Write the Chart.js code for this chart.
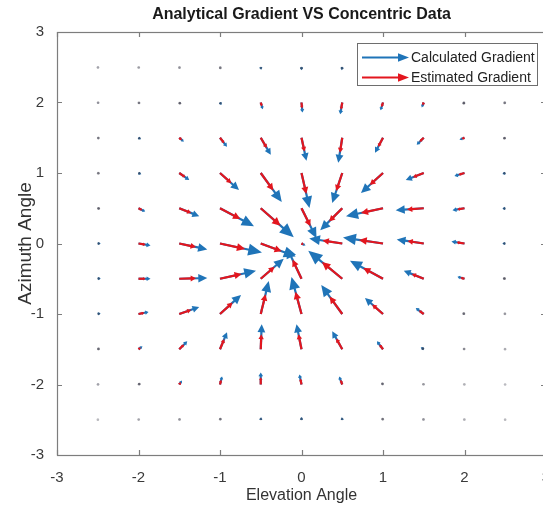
<!DOCTYPE html>
<html><head><meta charset="utf-8">
<script src="https://cdn.jsdelivr.net/npm/chart.js@4.4.1/dist/chart.umd.min.js"></script>
<style>
html,body{margin:0;padding:0;background:#fff;overflow:hidden}
#wrap{width:543px;height:507px;overflow:hidden;position:relative;background:#fff}
canvas{display:block}
</style></head>
<body><div id="wrap"><canvas id="c" width="603" height="507"></canvas></div>
<script>
// grid (Elevation = x, Azimuth = y)
const xs = [-2.5,-2,-1.5,-1,-0.5,0,0.5,1,1.5,2,2.5];
const ys = [2.5,2,1.5,1,0.5,0,-0.5,-1,-1.5,-2,-2.5];
const xTicks = [-3,-2,-1,0,1,2,3];
const yTicks = [-3,-2,-1,0,1,2,3];
const seriesNames = ['Calculated Gradient','Estimated Gradient'];

// Calculated gradient components (rows follow ys, columns follow xs)
const calcU = [
 [.006,.007,.007,.008,.007,0,-.008,-.016,-.018,-.017,-.009],
 [.010,.014,.016,.018,.024,.012,-.025,-.030,-.025,-.019,-.015],
 [.016,.031,.056,.086,.123,.061,-.049,-.098,-.086,-.061,-.022],
 [.017,.034,.123,.233,.258,.098,-.123,-.270,-.221,-.123,-.035],
 [.024,.082,.245,.417,.405,.184,-.270,-.454,-.344,-.147,-.035],
 [.037,.147,.344,.515,.429,.049,-.405,-.491,-.331,-.160,-.037],
 [.037,.147,.344,.442,.282,-.184,-.417,-.405,-.245,-.086,-.025],
 [.035,.123,.245,.258,.098,-.123,-.258,-.221,-.098,-.020,-.010],
 [.020,.049,.098,.086,.012,-.061,-.123,-.074,-.037,-.012,-.006],
 [.008,.020,.033,.025,0,-.025,-.037,-.015,-.008,-.005,-.004],
 [.004,.006,.008,.010,.005,0,-.006,-.010,-.008,-.005,-.004]
];
const calcV = [
 [-.006,-.008,-.012,-.019,-.035,-.043,-.041,-.039,-.029,-.021,-.009],
 [-.008,-.014,-.021,-.037,-.095,-.142,-.168,-.110,-.071,-.019,-.012],
 [-.010,-.023,-.056,-.128,-.241,-.326,-.355,-.213,-.099,-.028,-.013],
 [-.007,-.017,-.099,-.241,-.411,-.496,-.426,-.284,-.099,-.043,-.014],
 [-.005,-.047,-.113,-.255,-.411,-.426,-.312,-.113,-.028,-.028,-.008],
 [0,-.028,-.085,-.128,-.184,-.028,.071,.085,.057,.028,0],
 [.008,0,.010,.113,.284,.454,.397,.255,.113,.028,.005],
 [.010,.028,.099,.270,.468,.525,.411,.227,.085,.010,.005],
 [.010,.043,.113,.241,.355,.355,.255,.113,.028,.008,.004],
 [.004,.015,.057,.113,.170,.142,.113,.020,.008,.004,.002],
 [.003,.006,.010,.020,.035,.040,.035,.020,.010,.005,.003]
];
// Estimated gradient components
const estU = [
 [.004,.004,.004,.005,.004,0,-.005,-.010,-.011,-.010,-.005],
 [.006,.008,.010,.011,.014,.007,-.015,-.018,-.015,-.011,-.009],
 [.010,.019,.034,.052,.074,.037,-.029,-.059,-.052,-.037,-.013],
 [.010,.020,.074,.140,.155,.059,-.074,-.162,-.133,-.074,-.021],
 [.014,.049,.147,.250,.243,.110,-.162,-.272,-.206,-.088,-.021],
 [.022,.088,.206,.309,.257,.029,-.243,-.295,-.199,-.096,-.022],
 [.022,.088,.206,.265,.169,-.110,-.250,-.243,-.147,-.052,-.015],
 [.021,.074,.147,.155,.059,-.074,-.155,-.133,-.059,-.012,-.006],
 [.012,.029,.059,.052,.007,-.037,-.074,-.044,-.022,-.007,-.004],
 [.005,.012,.020,.015,0,-.015,-.022,-.009,-.005,-.003,-.002],
 [.002,.004,.005,.006,.003,0,-.004,-.006,-.005,-.003,-.002]
];
const estV = [
 [-.004,-.005,-.007,-.011,-.021,-.026,-.025,-.023,-.017,-.013,-.005],
 [-.005,-.008,-.013,-.022,-.057,-.085,-.101,-.066,-.043,-.011,-.007],
 [-.006,-.014,-.034,-.077,-.145,-.196,-.213,-.128,-.059,-.017,-.008],
 [-.004,-.010,-.059,-.145,-.247,-.298,-.256,-.170,-.059,-.026,-.008],
 [-.003,-.028,-.068,-.153,-.247,-.256,-.187,-.068,-.017,-.017,-.005],
 [0,-.017,-.051,-.077,-.110,-.017,.043,.051,.034,.017,0],
 [.005,0,.006,.068,.170,.272,.238,.153,.068,.017,.003],
 [.006,.017,.059,.162,.281,.315,.247,.136,.051,.006,.003],
 [.006,.026,.068,.145,.213,.213,.153,.068,.017,.005,.002],
 [.002,.009,.034,.068,.102,.085,.068,.012,.005,.002,.001],
 [.002,.004,.006,.012,.021,.024,.021,.012,.006,.003,.002]
];

const BLUE = '#1f74b8';
const RED = '#e3161e';

function buildPoints(U, V) {
  const pts = [];
  ys.forEach((y, j) => xs.forEach((x, i) => pts.push({x, y, u: U[j][i], v: V[j][i]})));
  return pts;
}

function drawArrow(ctx, x0, y0, x1, y1, color, lw, fixedHead) {
  const dx = x1 - x0, dy = y1 - y0, L = Math.hypot(dx, dy);
  if (!fixedHead && L < 2.5) {
    ctx.fillStyle = 'rgba(60,60,75,' + Math.min(0.8, 0.12 + L * 0.28) + ')';
    ctx.beginPath(); ctx.arc(x0 + dx / 2, y0 + dy / 2, 1.3, 0, Math.PI * 2); ctx.fill();
    return;
  }
  const ux = dx / L, uy = dy / L;
  const h = fixedHead ? fixedHead[0] : Math.max(2.5, 0.32 * L);
  const w = fixedHead ? fixedHead[1] : Math.max(1.6, 0.12 * L + 0.9);
  const bx = x1 - ux * h, by = y1 - uy * h;
  ctx.strokeStyle = color; ctx.lineWidth = lw; ctx.lineCap = 'butt';
  ctx.beginPath(); ctx.moveTo(x0, y0); ctx.lineTo(bx + ux * 0.6, by + uy * 0.6); ctx.stroke();
  ctx.fillStyle = color;
  ctx.beginPath();
  ctx.moveTo(x1, y1);
  ctx.lineTo(bx - uy * w, by + ux * w);
  ctx.lineTo(bx + uy * w, by - ux * w);
  ctx.closePath(); ctx.fill();
}

const quiverPlugin = {
  id: 'quiver',
  afterDatasetsDraw(chart) {
    const ctx = chart.ctx, xS = chart.scales.x, yS = chart.scales.y, a = chart.chartArea;
    ctx.save();
    ctx.beginPath(); ctx.rect(a.left, a.top, a.right - a.left, a.bottom - a.top); ctx.clip();
    chart.data.datasets.forEach((ds, di) => {
      ds.data.forEach(p => {
        const x0 = xS.getPixelForValue(p.x), y0 = yS.getPixelForValue(p.y);
        const x1 = xS.getPixelForValue(p.x + p.u), y1 = yS.getPixelForValue(p.y + p.v);
        drawArrow(ctx, x0, y0, x1, y1, ds.borderColor, 2.2);
      });
    });
    ctx.restore();
  },
  afterDraw(chart) {
    const ctx = chart.ctx, a = chart.chartArea, xS = chart.scales.x, yS = chart.scales.y;
    ctx.save();
    // axes box
    ctx.strokeStyle = '#7d7d7d'; ctx.lineWidth = 1.2;
    ctx.strokeRect(Math.round(a.left) + 0.5, Math.round(a.top) + 0.5, Math.round(a.right - a.left), Math.round(a.bottom - a.top));
    // inward ticks
    ctx.beginPath();
    xTicks.forEach(v => {
      const px = Math.round(xS.getPixelForValue(v)) + 0.5;
      ctx.moveTo(px, a.bottom); ctx.lineTo(px, a.bottom - 5);
      ctx.moveTo(px, a.top); ctx.lineTo(px, a.top + 5);
    });
    yTicks.forEach(v => {
      const py = Math.round(yS.getPixelForValue(v)) + 0.5;
      ctx.moveTo(a.left, py); ctx.lineTo(a.left + 5, py);
      ctx.moveTo(a.right, py); ctx.lineTo(a.right - 5, py);
    });
    ctx.stroke();
    // legend
    const lx = 357.5, ly = 43.5, lw = 180, lh = 42;
    ctx.fillStyle = '#fff'; ctx.fillRect(lx, ly, lw, lh);
    ctx.strokeStyle = '#6e6e6e'; ctx.lineWidth = 1; ctx.strokeRect(lx, ly, lw, lh);
    ctx.font = '14px "Liberation Sans", Arial, sans-serif';
    ctx.textBaseline = 'middle'; ctx.textAlign = 'left';
    chart.data.datasets.forEach((ds, i) => {
      const yy = 57.5 + i * 20;
      drawArrow(ctx, 362, yy, 409, yy, ds.borderColor, 2.2, [11, 4.2]);
      ctx.fillStyle = '#222';
      ctx.fillText(ds.label, 411, yy + 0.5);
    });
    ctx.restore();
  }
};

const tickFont = {family: '"Liberation Sans", Arial, sans-serif', size: 15};

new Chart(document.getElementById('c'), {
  type: 'scatter',
  data: {
    datasets: [
      {label: seriesNames[0], data: buildPoints(calcU, calcV), borderColor: BLUE, backgroundColor: BLUE, pointRadius: 0},
      {label: seriesNames[1], data: buildPoints(estU, estV), borderColor: RED, backgroundColor: RED, pointRadius: 0}
    ]
  },
  options: {
    responsive: false,
    animation: false,
    devicePixelRatio: 1,
    layout: {padding: 0},
    plugins: {
      legend: {display: false},
      tooltip: {enabled: false},
      title: {
        display: true,
        text: 'Analytical Gradient VS Concentric Data',
        color: '#1a1a1a',
        font: {family: '"Liberation Sans", Arial, sans-serif', size: 16, weight: 'bold', lineHeight: 1.2},
        padding: {top: 5, bottom: 7.8}
      }
    },
    scales: {
      x: {
        type: 'linear', position: 'bottom', min: -3, max: 3,
        afterBuildTicks: s => { s.ticks = xTicks.map(v => ({value: v})); },
        afterFit: s => { s.height = 52; },
        grid: {display: false}, border: {display: false},
        ticks: {color: '#3a3a3a', font: tickFont, padding: 6, maxRotation: 0},
        title: {display: true, text: 'Elevation Angle', color: '#333',
          font: {family: '"Liberation Sans", Arial, sans-serif', size: 16, lineHeight: 1.2}, padding: {top: 0, bottom: 2}}
      },
      y: {
        type: 'linear', position: 'left', min: -3, max: 3,
        afterBuildTicks: s => { s.ticks = yTicks.map(v => ({value: v})); },
        afterFit: s => { s.width = 57; },
        grid: {display: false}, border: {display: false},
        ticks: {color: '#3a3a3a', font: tickFont, padding: 5},
        title: {display: true, text: 'Azimuth Angle', color: '#333',
          font: {family: '"Liberation Sans", Arial, sans-serif', size: 19, lineHeight: 1.2}, padding: {top: 14.6, bottom: 0}}
      },
      yr: {
        type: 'linear', axis: 'y', position: 'right', display: true,
        afterFit: s => { s.width = 57; },
        grid: {display: false}, border: {display: false},
        ticks: {display: false}
      }
    }
  },
  plugins: [quiverPlugin]
});
</script>
</body></html>
